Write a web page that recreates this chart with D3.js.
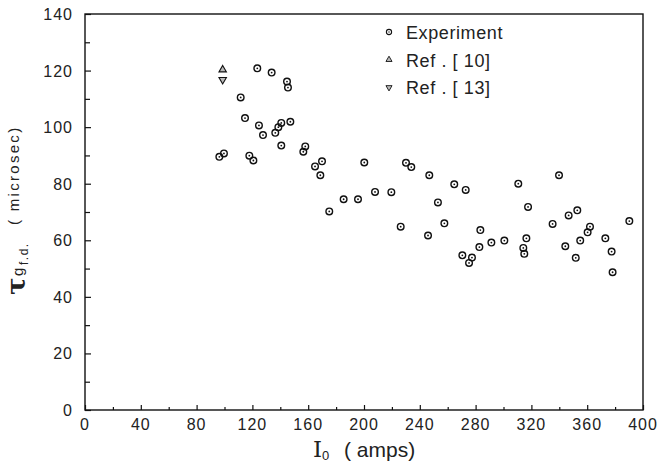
<!DOCTYPE html>
<html>
<head>
<meta charset="utf-8">
<script src="https://cdn.jsdelivr.net/npm/d3@7"></script>
<style>
  body { margin: 0; background: #fff; }
  text { font-family: "Liberation Sans", Arial, sans-serif; fill: #222; }
</style>
</head>
<body>
<div id="chart"></div>
<script>
// values
const expX = [96.3, 99.6, 111.6, 114.7, 117.8, 120.7, 123.5, 124.7, 127.6, 133.8,
  136.4, 138.6, 140.7, 140.7, 144.8, 145.5, 147.2, 156.5, 157.9, 164.9,
  168.7, 169.9, 175.1, 185.4, 195.7, 200.2, 207.9, 219.6, 226.3, 230.1,
  233.9, 245.9, 246.8, 253, 257.6, 264.7, 270.5, 272.9, 275.3, 277.4,
  282.7, 283.4, 291.3, 300.6, 310.6, 314.2, 314.9, 316.4, 317.6, 335.2,
  339.8, 344.3, 346.7, 351.8, 352.9, 355, 360.3, 362, 373, 377.5, 378.2, 390.2]
const expY = [89.5, 90.7, 110.5, 103.2, 89.9, 88.2, 120.8, 100.6, 97.2, 119.3,
  98, 100, 101.5, 93.5, 116.1, 114, 101.9, 91.3, 93.2, 86.1,
  83, 87.9, 70.2, 74.5, 74.5, 87.5, 77.1, 77, 64.8, 87.4,
  85.9, 61.7, 83, 73.4, 66, 79.8, 54.7, 77.8, 52, 53.9,
  57.6, 63.6, 59.2, 59.9, 80, 57.3, 55.2, 60.7, 71.8, 65.8,
  83, 57.9, 68.8, 53.8, 70.6, 59.9, 62.8, 64.8, 60.7, 56, 48.7, 66.8]
const ref10 = [[98.7, 120.3]]
const ref13 = [[98.7, 116.8]]

const xTicks = d3.range(0, 401, 40)
const xMinor = d3.range(20, 400, 40)
const yTicks = d3.range(0, 141, 20)
const yMinor = d3.range(10, 140, 20)
const legendLabels = ['Experiment', 'Ref . [ 10]', 'Ref . [ 13]']

const W = 662, H = 466
const margin = { top: 14, left: 85, right: 19, bottom: 56 }
const width = W - margin.left - margin.right
const height = H - margin.top - margin.bottom

const svg = d3.select('#chart').append('svg')
  .attr('width', W).attr('height', H)

const g = svg.append('g')
  .attr('transform', `translate(${margin.left},${margin.top})`)

const x = d3.scaleLinear().domain([0, 400]).range([0, width])
const y = d3.scaleLinear().domain([0, 140]).range([height, 0])

// frame
g.append('rect')
  .attr('width', width).attr('height', height)
  .attr('fill', 'none').attr('stroke', '#111').attr('stroke-width', 1.4)

// x axis, ticks pointing inward
const xAxis = g.append('g').attr('transform', `translate(0,${height})`)
  .call(d3.axisTop(x).tickValues(xTicks).tickSize(5).tickFormat(''))
xAxis.select('.domain').remove()
const xAxisMinor = g.append('g').attr('transform', `translate(0,${height})`)
  .call(d3.axisTop(x).tickValues(xMinor).tickSize(3).tickFormat(''))
xAxisMinor.select('.domain').remove()

g.selectAll('.xlab').data(xTicks).enter().append('text')
  .attr('x', d => x(d)).attr('y', height + 20)
  .attr('text-anchor', 'middle')
  .style('font-size', '16px').style('letter-spacing', '1px')
  .text(d => d)

// y axis, ticks pointing inward
const yAxis = g.append('g')
  .call(d3.axisRight(y).tickValues(yTicks).tickSize(6).tickFormat(''))
yAxis.select('.domain').remove()
const yAxisMinor = g.append('g')
  .call(d3.axisRight(y).tickValues(yMinor).tickSize(5).tickFormat(''))
yAxisMinor.select('.domain').remove()
g.selectAll('.tick line').attr('stroke', '#111').attr('stroke-width', 1.2)

g.selectAll('.ylab').data(yTicks).enter().append('text')
  .attr('x', -12).attr('y', d => y(d) + 6)
  .attr('text-anchor', 'end')
  .style('font-size', '16px').style('letter-spacing', '1px')
  .text(d => d)

// x title
const xt = svg.append('text')
  .attr('x', 313).attr('y', 457)
xt.append('tspan').style('font-family', '"DejaVu Serif", serif').style('font-size', '23px').text('I')
xt.append('tspan').attr('dy', 3).style('font-size', '13px').text('0')
xt.append('tspan').attr('x', 344).attr('dy', -3).style('font-size', '21px').text('( amps)')

// y title, rotated
const yt = svg.append('g').attr('transform', 'rotate(-90)')
yt.append('text').attr('x', -295).attr('y', 25)
  .style('font-family', '"DejaVu Serif", serif').style('font-weight', 'bold')
  .style('font-size', '26px').text('τ')
yt.append('text').attr('x', -276).attr('y', 23)
  .style('font-size', '15px').text('g')
yt.append('text').attr('x', -265).attr('y', 28)
  .style('font-size', '12px').style('letter-spacing', '1.5px').text('f.d.')
yt.append('text').attr('x', -225).attr('y', 19)
  .style('font-size', '15px').style('letter-spacing', '2.3px').text('( microsec)')

// marks
const expData = expX.map((d, i) => [d, expY[i]])
const circ = g.selectAll('.exp').data(expData).enter().append('g')
  .attr('transform', d => `translate(${x(d[0])},${y(d[1])})`)
circ.append('circle').attr('r', 3.3)
  .attr('fill', 'none').attr('stroke', '#111').attr('stroke-width', 1.4)
circ.append('circle').attr('r', 0.9).attr('fill', '#111')

const triUp = d3.symbol().type(d3.symbolTriangle).size(24)
g.selectAll('.r10').data(ref10).enter().append('path')
  .attr('d', triUp)
  .attr('transform', d => `translate(${x(d[0])},${y(d[1])})`)
  .attr('fill', '#bbb').attr('stroke', '#111').attr('stroke-width', 1.1)
g.selectAll('.r13').data(ref13).enter().append('path')
  .attr('d', triUp)
  .attr('transform', d => `translate(${x(d[0])},${y(d[1])}) rotate(180)`)
  .attr('fill', '#bbb').attr('stroke', '#111').attr('stroke-width', 1.1)

// legend
const leg = svg.append('g').attr('transform', 'translate(389,32)')
legendLabels.forEach((lab, i) => {
  const row = leg.append('g').attr('transform', `translate(0,${i * 27.7})`)
  if (i === 0) {
    row.append('circle').attr('r', 2.6)
      .attr('fill', 'none').attr('stroke', '#111').attr('stroke-width', 1.1)
    row.append('circle').attr('r', 0.7).attr('fill', '#111')
  } else {
    row.append('path').attr('d', d3.symbol().type(d3.symbolTriangle).size(16))
      .attr('transform', i === 2 ? 'rotate(180)' : null)
      .attr('fill', '#bbb').attr('stroke', '#111').attr('stroke-width', 0.9)
  }
  row.append('text').attr('x', 17).attr('y', 7)
    .style('font-size', '18px').style('letter-spacing', '0.6px')
    .text(lab)
})
</script>
</body>
</html>
